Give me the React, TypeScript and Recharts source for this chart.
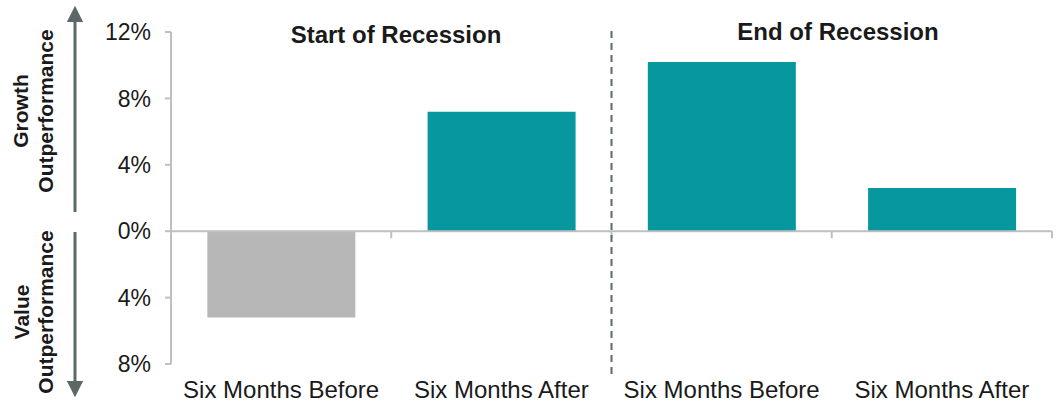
import React from 'react'
import { BarChart, Bar, XAxis, YAxis, ReferenceLine, Cell } from 'recharts'

const categories = ['start-before', 'start-after', 'end-before', 'end-after']
const categoryLabels = ['Six Months Before', 'Six Months After', 'Six Months Before', 'Six Months After']
const outperformance = [-5.2, 7.2, 10.2, 2.6]
const barColors = ['#b7b7b7', '#07989f', '#07989f', '#07989f']
const yTicks = [-8, -4, 0, 4, 8, 12]
const periodTitles = ['Start of Recession', 'End of Recession']

const data = categories.map((key, i) => ({ key, label: categoryLabels[i], value: outperformance[i] }))

const FONT = '"Liberation Sans", Arial, sans-serif'
const AXIS_GRAY = '#bfbfbf'
const ARROW = '#5c6867'

// tick marks hanging below the zero line, at the category boundaries
function ZeroTicks(props: any) {
  const vb = props.viewBox
  if (!vb) return null
  const step = vb.width / categories.length
  return (
    <g>
      {categories.map((_, i) => {
        const x = vb.x + step * (i + 1)
        return <line key={i} x1={x} x2={x} y1={vb.y} y2={vb.y + 7} stroke={AXIS_GRAY} strokeWidth={2} />
      })}
    </g>
  )
}

function DividerLine(props: any) {
  const x = props.x1
  const top = Math.min(props.y1, props.y2)
  const bottom = Math.max(props.y1, props.y2)
  return (
    <line x1={x} x2={x} y1={top - 1} y2={bottom + 11} stroke="#5f6b6b" strokeWidth={2} strokeDasharray="7 5" />
  )
}

function SideLabels() {
  return (
    <svg width={100} height={404} style={{ position: 'absolute', left: 0, top: 0 }}>
      <defs>
        <marker id="head" viewBox="0 0 10 10" refX="5" refY="5" markerWidth="5.5" markerHeight="5.5" orient="auto-start-reverse">
          <path d="M0,0 L10,5 L0,10 z" fill={ARROW} />
        </marker>
      </defs>
      <line x1={75} x2={75} y1={212} y2={14} stroke={ARROW} strokeWidth={3} markerEnd="url(#head)" />
      <line x1={75} x2={75} y1={232} y2={389} stroke={ARROW} strokeWidth={3} markerEnd="url(#head)" />
      <g fontFamily={FONT} fontWeight="bold" fontSize={21} fill="#1a1a1a" textAnchor="middle">
        <text transform="translate(28,111) rotate(-90)">Growth</text>
        <text transform="translate(53,111) rotate(-90)">Outperformance</text>
        <text transform="translate(29,312) rotate(-90)">Value</text>
        <text transform="translate(53,312) rotate(-90)">Outperformance</text>
      </g>
    </svg>
  )
}

function Titles() {
  return (
    <svg width={1060} height={404} style={{ position: 'absolute', left: 0, top: 0, pointerEvents: 'none' }}>
      <g fontFamily={FONT} fontWeight="bold" fontSize={24} fill="#1a1a1a" textAnchor="middle">
        <text x={396} y={43}>{periodTitles[0]}</text>
        <text x={838} y={40}>{periodTitles[1]}</text>
      </g>
    </svg>
  )
}

export default function App() {
  return (
    <div style={{ position: 'absolute', left: 0, top: 0, width: 1060, height: 404, background: '#fff', fontFamily: FONT }}>
      <BarChart
        width={1060}
        height={404}
        data={data}
        margin={{ top: 32, right: 8, left: 100, bottom: 0 }}
        barCategoryGap="16.5%"
      >
        <XAxis
          dataKey="key"
          interval={0}
          axisLine={false}
          tickLine={false}
          tickSize={0}
          tickMargin={17}
          height={40}
          tickFormatter={(_v: string, i: number) => categoryLabels[i]}
          tick={{ fontSize: 24, fill: '#1a1a1a', fontFamily: FONT }}
        />
        <YAxis
          domain={[-8, 12]}
          ticks={yTicks}
          width={71}
          interval={0}
          tickMargin={14}
          axisLine={{ stroke: AXIS_GRAY, strokeWidth: 2 }}
          tickLine={{ stroke: AXIS_GRAY, strokeWidth: 2 }}
          tickFormatter={(v: number) => `${Math.abs(v)}%`}
          tick={{ fontSize: 23, fill: '#1a1a1a', fontFamily: FONT }}
        />
        <Bar dataKey="value" isAnimationActive={false}>
          {data.map((d, i) => (
            <Cell key={d.key} fill={barColors[i]} />
          ))}
        </Bar>
        <ReferenceLine y={0} stroke={AXIS_GRAY} strokeWidth={2} label={(p: any) => <ZeroTicks {...p} />} />
        <ReferenceLine x="start-after" position="end" stroke="#5f6b6b" shape={(p: any) => <DividerLine {...p} />} />
      </BarChart>
      <SideLabels />
      <Titles />
    </div>
  )
}
